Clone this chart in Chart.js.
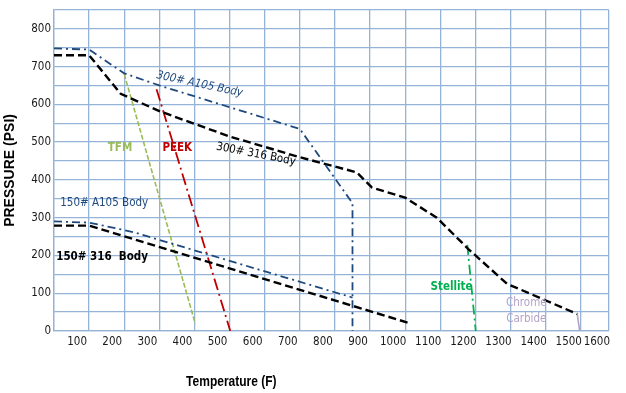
<!DOCTYPE html>
<html>
<head>
<meta charset="utf-8">
<script src="https://cdn.jsdelivr.net/npm/chart.js@4/dist/chart.umd.min.js"></script>
<style>
  body { margin: 0; background: #fff; }
  #chart { display: block; }
</style>
</head>
<body>
<canvas id="chart" width="626" height="393"></canvas>
<script>
// 圧力-温度カーブのデータ =====================================================
const xTickValues = [0, 100, 200, 300, 400, 500, 600, 700, 800, 900, 1000, 1100, 1200, 1300, 1400, 1500, 1580];
const xTickLabels = ['', '100', '200', '300', '400', '500', '600', '700', '800', '900', '1000', '1100', '1200', '1300', '1400', '1500', '1600'];

const a105Class300Temp = [0, 100, 200, 300, 700, 845, 850, 850];
const a105Class300Psi  = [748, 745, 682, 650, 535, 345, 340, 0];

const ss316Class300Temp = [0, 100, 190, 300, 500, 700, 862, 905, 1000, 1090, 1180, 1290, 1490];
const ss316Class300Psi  = [730, 730, 628, 582, 515, 460, 420, 380, 353, 300, 217, 125, 45];

const a105Class150Temp = [0, 100, 225, 845, 850];
const a105Class150Psi  = [290, 287, 262, 90, 88];

const ss316Class150Temp = [0, 100, 1015];
const ss316Class150Psi  = [279, 279, 20];

const tfmTemp = [200, 402];
const tfmPsi  = [680, 20];

const peekTemp = [292, 502];
const peekPsi  = [640, 0];

const stelliteTemp = [1177, 1201];
const stellitePsi  = [228, 0];

const chromeTemp = [1490, 1497];
const chromePsi  = [45, 0];

// グラフ内の注記
const notes = [
  { text: '300# A105 Body', t: 415, p: 653, angle: 12, color: '#1f497d', bold: false, italic: true },
  { text: '300# 316 Body',  t: 575, p: 468, angle: 11, color: '#000000', bold: false, italic: false },
  { text: 'TFM',            t: 188, p: 485, angle: 0,  color: '#9bbb59', bold: true,  italic: false },
  { text: 'PEEK',           t: 351, p: 485, angle: 0,  color: '#c00000', bold: true,  italic: false },
  { text: '150# A105 Body', t: 143, p: 340, angle: 0,  color: '#1f497d', bold: false, italic: false },
  { text: '150# 316  Body', t: 137, p: 196, angle: 0,  color: '#000000', bold: true,  italic: false },
  { text: 'Stellite',       t: 1132, p: 117, angle: 0, color: '#00b050', bold: true,  italic: false },
  { text: 'Chrome',         t: 1345, p: 75,  angle: 0, color: '#b3a2c7', bold: false, italic: false },
  { text: 'Carbide',        t: 1345, p: 32,  angle: 0, color: '#b3a2c7', bold: false, italic: false }
];

const GRID = '#95b3d7';
const NARROW = '"DejaVu Sans Condensed", Lato, sans-serif';

function pts(xs, ys) {
  return xs.map(function(x, i) { return { x: x, y: ys[i] }; });
}

function series(label, xs, ys, color, width, dash) {
  return {
    label: label,
    data: pts(xs, ys),
    borderColor: color,
    borderWidth: width,
    borderDash: dash,
    pointRadius: 0,
    fill: false,
    tension: 0
  };
}

const notesPlugin = {
  id: 'notes',
  afterDatasetsDraw(chart) {
    const ctx = chart.ctx;
    const sx = chart.scales.x, sy = chart.scales.y;
    ctx.save();
    notes.forEach(function(n) {
      ctx.save();
      ctx.translate(sx.getPixelForValue(n.t), sy.getPixelForValue(n.p));
      ctx.rotate(n.angle * Math.PI / 180);
      ctx.font = (n.italic ? 'italic ' : '') + (n.bold ? 'bold ' : '') + '11.5px ' + NARROW;
      ctx.fillStyle = n.color;
      ctx.textAlign = 'center';
      ctx.textBaseline = 'middle';
      ctx.fillText(n.text, 0, 0);
      ctx.restore();
    });
    // x軸タイトル（細めのArial風）
    ctx.translate(sx.getPixelForValue(505), 382);
    ctx.scale(0.8, 1);
    ctx.font = 'bold 15px "Liberation Sans", Arial, sans-serif';
    ctx.fillStyle = '#000';
    ctx.textAlign = 'center';
    ctx.textBaseline = 'middle';
    ctx.fillText('Temperature (F)', 0, 0);
    ctx.restore();
  }
};

const config = {
  type: 'line',
  data: {
    datasets: [
      series('300# A105 Body', a105Class300Temp, a105Class300Psi, '#1f497d', 1.8, [8, 4, 2, 4]),
      series('300# 316 Body', ss316Class300Temp, ss316Class300Psi, '#000000', 2.4, [8, 4]),
      series('150# A105 Body', a105Class150Temp, a105Class150Psi, '#1f497d', 1.8, [8, 4, 2, 4]),
      series('150# 316 Body', ss316Class150Temp, ss316Class150Psi, '#000000', 2.4, [8, 4]),
      series('TFM', tfmTemp, tfmPsi, '#9bbb59', 1.6, [5, 2]),
      series('PEEK', peekTemp, peekPsi, '#c00000', 1.8, [12, 4, 2, 4]),
      series('Stellite', stelliteTemp, stellitePsi, '#00b050', 1.8, [10, 4, 2, 4]),
      series('Chrome Carbide', chromeTemp, chromePsi, '#b3a2c7', 1.6, [])
    ]
  },
  options: {
    responsive: false,
    animation: false,
    devicePixelRatio: 1,
    layout: { padding: { top: 8, right: 10, left: 0, bottom: 0 } },
    plugins: {
      legend: { display: false },
      tooltip: { enabled: false }
    },
    scales: {
      x: {
        type: 'linear',
        min: 0,
        max: 1580,
        afterBuildTicks: function(scale) {
          scale.ticks = xTickValues.map(function(v) { return { value: v }; });
        },
        afterFit: function(scale) { scale.height = 62; },
        ticks: {
          autoSkip: false,
          maxRotation: 0,
          labelOffset: -12,
          padding: 4,
          color: '#1a1a1a',
          font: { family: NARROW, size: 11.5 },
          callback: function(v) {
            const i = xTickValues.indexOf(v);
            return i < 0 ? '' : xTickLabels[i];
          }
        },
        grid: { color: GRID, lineWidth: 1.3, drawTicks: false },
        border: { color: GRID, width: 1.3 }
      },
      y: {
        min: 0,
        max: 850,
        afterFit: function(scale) { scale.width = 54; },
        ticks: {
          stepSize: 50,
          padding: 3,
          color: '#1a1a1a',
          font: { family: NARROW, size: 11.5 },
          callback: function(v) { return v % 100 === 0 ? String(v) : ''; }
        },
        grid: { color: GRID, lineWidth: 1.3, drawTicks: false },
        border: { color: GRID, width: 1.3 },
        title: {
          display: true,
          text: 'PRESSURE (PSI)',
          color: '#000',
          font: { family: '"Liberation Sans", Arial, sans-serif', size: 14, weight: 'bold' },
          padding: { top: 2, bottom: 0 }
        }
      }
    }
  },
  plugins: [notesPlugin]
};

const chart = new Chart(document.getElementById('chart'), config);
</script>
</body>
</html>
